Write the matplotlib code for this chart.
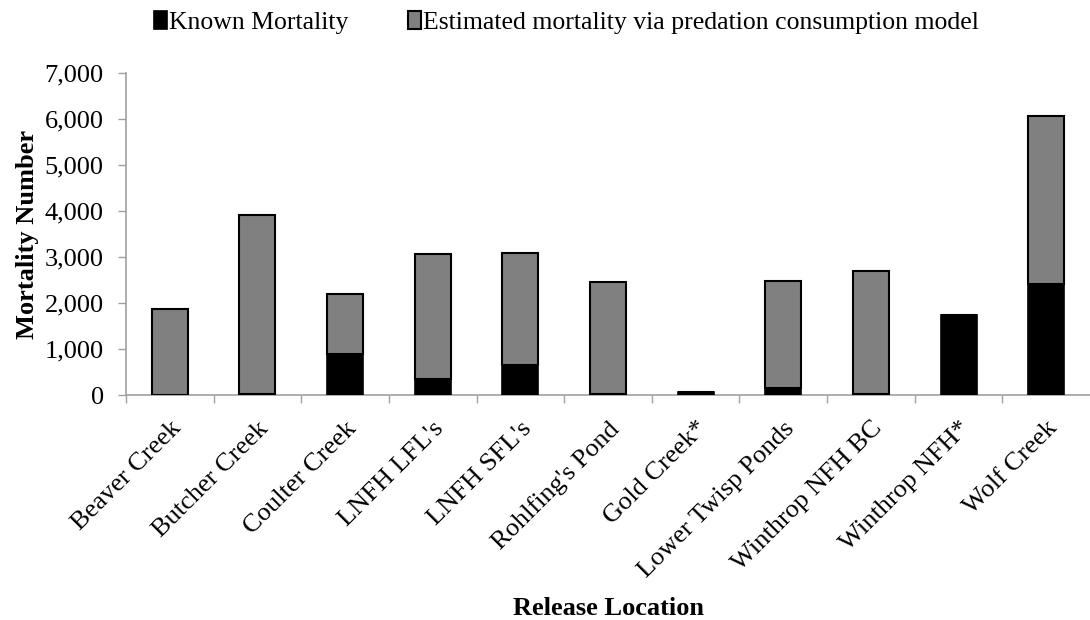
import matplotlib
matplotlib.use("Agg")
import matplotlib.pyplot as plt
import numpy as np
from matplotlib.ticker import FuncFormatter, FixedLocator

plt.rcParams['font.family'] = ['Liberation Serif', 'DejaVu Serif']

categories = ["Beaver Creek", "Butcher Creek", "Coulter Creek", "LNFH LFL's", "LNFH SFL's",
              "Rohlfing's Pond", "Gold Creek*", "Lower Twisp Ponds", "Winthrop NFH BC",
              "Winthrop NFH*", "Wolf Creek"]
known = [10, 15, 900, 350, 660, 30, 65, 160, 25, 1740, 2420]
totals = [1860, 3920, 2190, 3070, 3080, 2450, 65, 2470, 2700, 1740, 6070]
estimated = [t - k for t, k in zip(totals, known)]

fig = plt.figure(figsize=(10.9, 6.2), dpi=100)
ax = fig.add_axes([0.1156, 0.3629, 0.8844, 0.5194])

x = np.arange(len(categories))
w = 0.41
ax.bar(x, known, width=w, color='black', edgecolor='black', linewidth=1.2,
       label='Known Mortality', zorder=3)
ax.bar(x, estimated, width=w, bottom=known, color='#808080', edgecolor='black',
       linewidth=1.5, label='Estimated mortality via predation consumption model', zorder=3)

ax.set_xlim(-0.5, len(categories) - 0.5)
ax.set_ylim(0, 7000)
ax.set_yticks(range(0, 7001, 1000))
ax.yaxis.set_major_formatter(FuncFormatter(lambda v, p: f"{int(v):,}"))

ax.set_xticks(x)
ax.set_xticklabels(categories, rotation=45, ha='right', va='top', rotation_mode='anchor',
                   fontsize=19)
ax.tick_params(axis='x', which='major', length=0, pad=16)
ax.xaxis.set_minor_locator(FixedLocator(np.arange(-0.5, len(categories) - 0.5, 1.0)))
ax.tick_params(axis='x', which='minor', length=6, width=1, color='#a0a0a0', direction='out')
ax.tick_params(axis='y', length=6, width=1, color='#a0a0a0', labelsize=19, pad=10,
               direction='out')

for s in ['top', 'right']:
    ax.spines[s].set_visible(False)
for s in ['left', 'bottom']:
    ax.spines[s].set_color('#a0a0a0')
    ax.spines[s].set_linewidth(1.2)

ax.set_ylabel('Mortality Number', fontsize=19, fontweight='bold', labelpad=4)
ax.set_xlabel('Release Location', fontsize=19, fontweight='bold', labelpad=11)

handles, labels = ax.get_legend_handles_labels()
fig.legend(handles, labels, loc='upper left', bbox_to_anchor=(0.12, 1.02), ncol=2,
           frameon=False, fontsize=18.5, handlelength=0.5, handleheight=0.7,
           handletextpad=0.1, columnspacing=2.3)

fig.savefig('out.png', dpi=100)
